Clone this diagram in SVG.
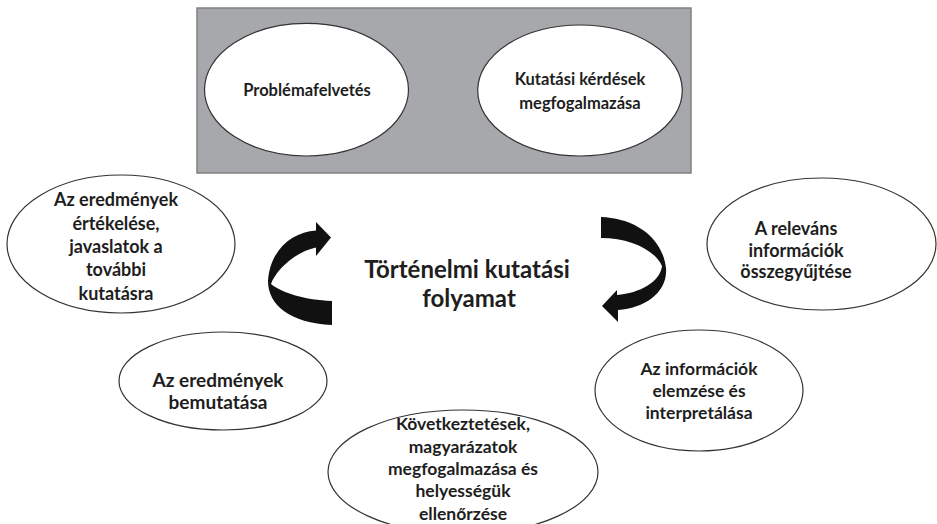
<svg xmlns="http://www.w3.org/2000/svg" width="937" height="524" viewBox="0 0 937 524">
  <style>
    .node ellipse { fill: #ffffff; stroke: #333333; stroke-width: 1.2; }
    .lbl { font-family: Lato, "Open Sans", "Liberation Sans", sans-serif; font-weight: bold; fill: #1e1e1e; text-anchor: middle; }
    .s16 { font-size: 16.5px; }
    .s17 { font-size: 17.5px; }
    .s18 { font-size: 18px; }
    .s19 { font-size: 19px; }
    .title { font-size: 24px; }
    .arrow { fill: #111111; stroke: none; }
  </style>
  <rect id="panel" x="197" y="8" width="494" height="165" fill="#a7a8ab" stroke="#808080" stroke-width="1.5"/>

  <g id="node-problema" class="node">
    <ellipse cx="306.5" cy="89.7" rx="102" ry="66.3"/>
    <text class="lbl s16" x="307" y="96">Problémafelvetés</text>
  </g>
  <g id="node-kerdesek" class="node">
    <ellipse cx="580" cy="90.5" rx="102.3" ry="65.5"/>
    <text class="lbl s16" x="580" y="85">Kutatási kérdések</text>
    <text class="lbl s16" x="580" y="109">megfogalmazása</text>
  </g>
  <g id="node-ertekeles" class="node">
    <ellipse cx="121" cy="244" rx="114" ry="69"/>
    <text class="lbl s18" x="116" y="206">Az eredmények</text>
    <text class="lbl s18" x="116" y="229.5">értékelése,</text>
    <text class="lbl s18" x="116" y="253">javaslatok a</text>
    <text class="lbl s18" x="116" y="276">további</text>
    <text class="lbl s18" x="116" y="299.5">kutatásra</text>
  </g>
  <g id="node-gyujtes" class="node">
    <ellipse cx="821.5" cy="244" rx="114.5" ry="66"/>
    <text class="lbl s18" x="796" y="235">A releváns</text>
    <text class="lbl s18" x="796" y="257">információk</text>
    <text class="lbl s18" x="796" y="278">összegyűjtése</text>
  </g>
  <g id="node-bemutatas" class="node">
    <ellipse cx="223" cy="381" rx="104" ry="49"/>
    <text class="lbl s19" x="218" y="387">Az eredmények</text>
    <text class="lbl s19" x="218" y="409">bemutatása</text>
  </g>
  <g id="node-elemzes" class="node">
    <ellipse cx="699" cy="390.5" rx="104" ry="60.5"/>
    <text class="lbl s17" x="699" y="375">Az információk</text>
    <text class="lbl s17" x="699" y="397">elemzése és</text>
    <text class="lbl s17" x="699" y="419">interpretálása</text>
  </g>
  <g id="node-kovetkeztetesek" class="node">
    <ellipse cx="463" cy="472" rx="135" ry="62"/>
    <text class="lbl s17" x="463" y="430">Következtetések,</text>
    <text class="lbl s17" x="463" y="453">magyarázatok</text>
    <text class="lbl s17" x="463" y="475">megfogalmazása és</text>
    <text class="lbl s17" x="463" y="497">helyességük</text>
    <text class="lbl s17" x="463" y="520">ellenőrzése</text>
  </g>
  <g id="node-center">
    <text class="lbl title" x="467" y="278">Történelmi kutatási</text>
    <text class="lbl title" x="469" y="307">folyamat</text>
  </g>

  <g id="connectors">
    <path class="arrow" d="M 332 301 C 305 300, 282 293, 271 284 C 276 270, 295 252, 316 247.5 L 316 256 L 331 237.6 L 316 222 L 316 230.5 C 292 232, 270 250, 268 281 C 268 305, 290 323, 332 325 Z"/>
    <path class="arrow" d="M 601 217 C 632 218, 662 235, 666 268 C 668 292, 645 308, 618 310 L 618 322 L 602 306 L 617 290 L 617 295 C 640 293, 660 282, 662 266 C 655 250, 630 238, 601 238 Z"/>
  </g>
</svg>
